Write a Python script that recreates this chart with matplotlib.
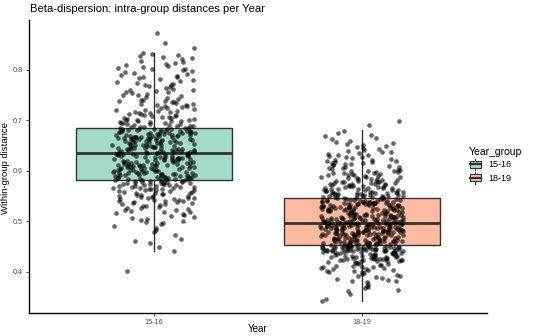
import numpy as np
import matplotlib
matplotlib.use('Agg')
import matplotlib.pyplot as plt
from matplotlib.patches import Rectangle, Patch
from matplotlib.lines import Line2D
from matplotlib.legend_handler import HandlerBase

plt.rcParams['font.family'] = ['Liberation Sans', 'DejaVu Sans']

# data (distances in thousandths)
groups = ['15-16', '18-19']
colors = ['#a3dac9', '#fdbba1']

dist_1516 = [401,
 441, 449, 457, 462, 466, 473, 478, 483, 487, 490, 494, 496, 499,
 501, 503, 504, 507, 509, 511, 512, 514, 516, 518, 519,
 520, 522, 523, 525, 526, 527, 529, 530, 531, 533, 534, 535, 536, 537, 538, 539,
 540, 541, 541, 542, 543, 544, 545, 546, 546, 547, 548, 549, 550, 551, 551, 552, 553, 554, 555, 556, 557, 557, 558, 559,
 560, 560, 561, 562, 562, 563, 564, 564, 565, 566, 566, 567, 568, 568, 569, 570, 570, 571, 572, 572, 573, 573, 574, 574,
 575, 575, 576, 576, 577, 577, 578, 578, 579, 579, 580, 580, 581, 581, 582,
 583, 583, 584, 584, 585, 585, 586, 586, 587, 587, 588, 588, 589, 589, 590, 590, 591, 591, 592, 592, 593, 593, 594, 594,
 595, 595, 596, 596, 597, 597, 598, 598, 599, 599, 600, 600, 584, 588, 592, 596,
 601, 601, 602, 603, 603, 604, 605, 605, 606, 607, 607, 608, 609, 609, 610, 611, 611, 612, 613, 613, 614, 615, 615, 616,
 617, 617, 618, 619, 619, 620, 604, 606, 608, 610, 612, 614, 616, 618, 602, 620, 611, 609,
 621, 621, 622, 622, 623, 623, 624, 624, 625, 625, 626, 626, 627, 627, 628, 628, 629, 629, 630, 630, 631, 631, 632, 632,
 633, 633, 634, 634, 635, 635,
 636, 637, 638, 639, 640, 641, 642, 643, 644, 645, 646, 647, 648, 649, 650, 651, 652, 653, 654, 655, 656, 657, 658, 659, 660,
 636, 637, 638, 639, 640, 641, 642, 643, 644, 645, 646, 647, 648, 649, 650, 651, 652, 653, 654, 655, 656, 657, 658, 659, 660,
 638, 652,
 661, 662, 663, 664, 665, 666, 667, 668, 669, 670, 671, 672, 673, 674, 675, 676, 677, 678, 679, 680, 681, 682, 683, 684,
 661, 662, 663, 664, 665, 666, 667, 668, 669, 670, 671, 672, 673, 674, 675, 676, 677, 678, 679, 680, 681, 682, 683, 684,
 663, 667, 671, 675, 679, 682, 665,
 685, 686, 686, 687, 688, 689, 689, 690, 691, 692, 692, 693, 694, 695, 695, 696, 697, 698, 698, 699, 700, 700,
 701, 702, 703, 704, 705, 706, 707, 708, 709, 710, 711, 712, 713, 714, 715, 716, 717, 718, 719, 720,
 721, 722, 724, 725, 726, 728, 729, 730, 731, 732, 733, 735, 736, 737, 738, 739, 740,
 741, 743, 744, 746, 747, 749, 750, 752, 753, 755, 756, 757, 759, 760,
 762, 764, 765, 767, 769, 770, 772, 774, 776, 778, 779,
 781, 783, 785, 786, 788, 790, 791, 793, 795, 797, 799,
 801, 802, 804, 806, 808, 810, 812, 814, 816, 818,
 821, 823, 826, 828, 830, 832, 833,
 842, 853, 872]

dist_1819 = [343, 346, 357,
 362, 365, 368, 371, 373, 376, 379,
 381, 382, 384, 386, 387, 389, 391, 392, 394, 396, 397, 399,
 400, 401, 402, 403, 404, 405, 406, 407, 408, 409, 410, 411, 412, 413, 414, 415, 416, 417, 418, 419, 420, 410,
 421, 422, 423, 424, 425, 426, 427, 428, 429, 430, 431, 432, 433, 434, 435, 436, 437, 438, 439, 440,
 421, 422, 423, 424, 425, 426, 427, 428, 429, 430, 431, 432, 433, 434, 435, 436, 437, 438, 439, 440,
 423, 427, 431, 435, 438, 425,
 441, 442, 443, 444, 445, 446, 447, 448, 449, 450, 451, 452, 453,
 441, 442, 443, 444, 445, 446, 447, 448, 449, 450, 451, 452, 453,
 441, 442, 443, 444, 445, 446, 447, 448, 449, 450, 451, 452, 453,
 441, 442, 443, 444, 445, 446, 447, 448, 449, 450, 451,
 454, 455, 456, 457, 458, 459, 460, 461, 462, 463, 464, 465, 466, 467, 468, 469, 470,
 454, 455, 456, 457, 458, 459, 460, 461, 462, 463, 464, 465, 466, 467, 468, 469, 470,
 454, 455, 456, 457, 458, 459, 460, 461, 462, 463, 464, 465, 466, 467, 468, 469,
 471, 472, 473, 474, 475, 476, 477, 478, 479, 480, 481, 482, 483, 484, 485, 486, 487, 488, 489, 490, 491, 492, 493, 494, 495, 496,
 471, 472, 473, 474, 475, 476, 477, 478, 479, 480, 481, 482, 483, 484, 485, 486, 487, 488, 489, 490, 491, 492, 493, 494, 495, 496,
 471, 472, 473, 474, 475, 476, 477, 478, 479, 480, 481, 482, 483, 484, 485, 486, 487, 488, 489, 490, 491, 492, 493, 494, 495, 496,
 473, 475, 477, 479, 481, 483, 485, 487, 489, 491, 493, 495,
 497, 498, 499, 500, 501, 502, 503, 504, 505, 506, 507, 508, 509, 510, 511, 512, 513, 514, 515, 516, 517, 518, 519, 520,
 497, 498, 499, 500, 501, 502, 503, 504, 505, 506, 507, 508, 509, 510, 511, 512, 513, 514, 515, 516, 517, 518, 519, 520,
 497, 498, 499, 500, 501, 502, 503, 504, 505, 506, 507, 508, 509, 510, 511, 512, 513,
 521, 522, 523, 524, 525, 526, 527, 528, 529, 530, 531, 532, 533, 534, 535, 536, 537, 538, 539, 540, 541, 542, 543, 544,
 545, 546, 547,
 521, 522, 523, 524, 525, 526, 527, 528, 529, 530, 531, 532, 533, 534, 535, 536, 537, 538, 539, 540, 541, 542, 543, 544,
 545, 546, 547,
 521, 522, 523, 524, 525, 526, 527, 528, 529, 530, 531, 532, 533, 534, 535, 536, 537, 538, 539, 540, 541,
 548, 549, 550, 551, 552, 553, 554, 555, 556, 557, 558, 559, 560,
 548, 549, 550, 551, 552, 553, 554, 555, 556, 557, 558, 559, 560,
 550, 553, 556, 559,
 561, 562, 563, 564, 565, 566, 567, 568, 569, 570, 571, 572, 573, 574, 575, 576, 577, 578, 579, 580,
 562, 564, 566, 568, 570, 572, 574, 576, 578, 580, 561, 565, 569, 573, 577,
 581, 582, 583, 584, 585, 586, 587, 588, 589, 590, 591, 592, 593, 594, 595, 596, 597, 598, 599, 600,
 583, 587, 591, 595, 599,
 601, 602, 603, 605, 606, 607, 608, 609, 611, 612, 613, 614, 615, 616, 617, 618, 619, 620,
 621, 622, 624, 625, 627, 628, 629, 631, 632, 634, 635, 637, 638, 640,
 642, 643, 645, 647, 649, 651, 653, 655, 657, 659,
 662, 665, 668, 671, 675, 679,
 690, 698]

# box statistics: [15-16, 18-19]
q1 = [0.582, 0.453]
med = [0.635, 0.496]
q3 = [0.684, 0.547]
whis_lo = [0.441, 0.343]
whis_hi = [0.833, 0.681]

dists = [np.array(dist_1516) / 1000, np.array(dist_1819) / 1000]

fig = plt.figure(figsize=(5.5, 3.36), dpi=100)
ax = fig.add_axes([0.0527, 0.069, 0.832, 0.871])

stats = []
for i in range(2):
    stats.append({'med': med[i], 'q1': q1[i], 'q3': q3[i],
                  'whislo': whis_lo[i], 'whishi': whis_hi[i], 'fliers': []})

bp = ax.bxp(stats, positions=[1, 2], widths=0.75, patch_artist=True,
            showcaps=False, showfliers=False,
            boxprops=dict(edgecolor='#333333', linewidth=1.0),
            whiskerprops=dict(color='#333333', linewidth=1.0),
            medianprops=dict(color='#333333', linewidth=2.0))
for patch, c in zip(bp['boxes'], colors):
    patch.set_facecolor(c)

# jittered points (deterministic jitter, width 0.2)
for i, d in enumerate(dists):
    idx = np.arange(len(d))
    h = (np.sin(idx * 12.9898 + 78.233 * (i + 1)) * 43758.5453) % 1
    xs = (i + 1) + (h - 0.5) * 0.4
    ax.scatter(xs, d, s=11, color='black', alpha=0.6, linewidths=0, zorder=3)

ax.set_xlim(0.4, 2.6)
ax.set_ylim(0.319, 0.898)
ax.set_xticks([1, 2])
ax.set_xticklabels(groups)
ax.set_yticks([0.4, 0.5, 0.6, 0.7, 0.8])
ax.set_yticklabels(['0.4', '0.5', '0.6', '0.7', '0.8'])
ax.tick_params(colors='#333333', labelcolor='#4d4d4d', labelsize=5.2,
               length=2.5, width=0.6, pad=2)
for s in ['top', 'right']:
    ax.spines[s].set_visible(False)
for s in ['left', 'bottom']:
    ax.spines[s].set_linewidth(1.0)
    ax.spines[s].set_color('black')

fig.text(258 / 550, 1 - 329 / 336, 'Year', ha='center', va='center', fontsize=7)
fig.text(6 / 550, 1 - 168 / 336, 'Within-group distance', ha='center', va='center',
         rotation=90, fontsize=6.8)
fig.text(30 / 550, 1 - 9 / 336, 'Beta-dispersion: intra-group distances per Year',
         ha='left', va='center', fontsize=8.1)


class BoxHandler(HandlerBase):
    def create_artists(self, legend, orig_handle, xdescent, ydescent,
                       width, height, fontsize, trans):
        x0, y0 = -xdescent, -ydescent
        r = Rectangle((x0 + 0.1 * width, y0 + 0.2 * height), 0.8 * width, 0.6 * height,
                      facecolor=orig_handle.get_facecolor(), edgecolor='#333333',
                      linewidth=0.8, transform=trans)
        m = Line2D([x0 + 0.1 * width, x0 + 0.9 * width], [y0 + 0.5 * height] * 2,
                   color='#333333', linewidth=1.6, transform=trans)
        w1 = Line2D([x0 + 0.5 * width] * 2, [y0, y0 + 0.2 * height],
                    color='#333333', linewidth=0.8, transform=trans)
        w2 = Line2D([x0 + 0.5 * width] * 2, [y0 + 0.8 * height, y0 + height],
                    color='#333333', linewidth=0.8, transform=trans)
        return [r, m, w1, w2]


handles = [Patch(facecolor=c) for c in colors]
fig.legend(handles, groups, title='Year_group', loc='upper left',
           bbox_to_anchor=(466 / 550, 1 - 144 / 336), frameon=False,
           fontsize=6.5, title_fontsize=7.5, handler_map={Patch: BoxHandler()},
           handlelength=1.5, handleheight=1.6, handletextpad=0.7,
           labelspacing=0.2, alignment='left', borderaxespad=0, borderpad=0.3)

fig.savefig('out.png', dpi=100)
